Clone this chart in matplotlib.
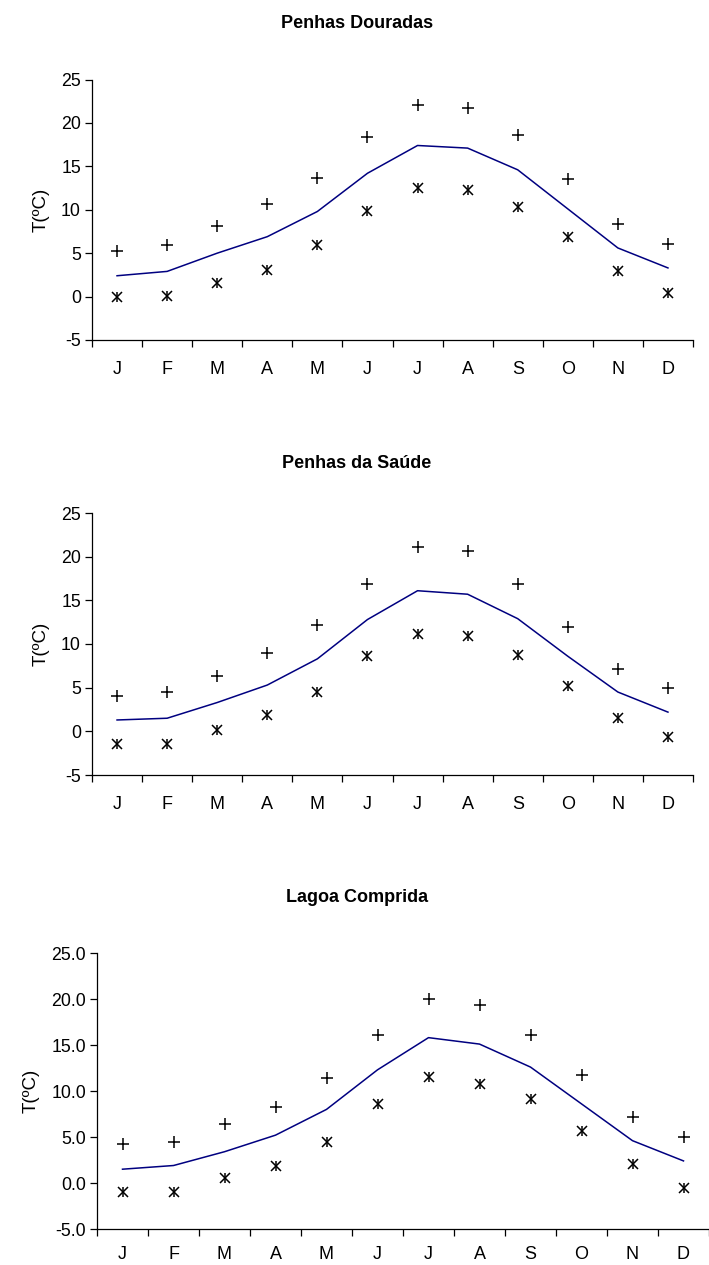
import matplotlib
matplotlib.use("Agg")
import matplotlib.pyplot as plt
import numpy as np

plt.rcParams['font.family'] = ['Liberation Sans', 'DejaVu Sans']

months = ['J', 'F', 'M', 'A', 'M', 'J', 'J', 'A', 'S', 'O', 'N', 'D']

# monthly temperatures (ºC): max, mean, min for each station
pd_max = [5.3, 5.9, 8.1, 10.7, 13.7, 18.4, 22.1, 21.7, 18.6, 13.5, 8.4, 6.1]
pd_mean = [2.4, 2.9, 5.0, 6.9, 9.8, 14.2, 17.4, 17.1, 14.6, 10.1, 5.6, 3.3]
pd_min = [-0.1, 0.1, 1.6, 3.1, 5.9, 9.9, 12.5, 12.3, 10.3, 6.9, 2.9, 0.4]

ps_max = [4.0, 4.5, 6.3, 9.0, 12.2, 16.9, 21.1, 20.6, 16.9, 11.9, 7.1, 5.0]
ps_mean = [1.3, 1.5, 3.3, 5.3, 8.3, 12.8, 16.1, 15.7, 12.9, 8.6, 4.5, 2.2]
ps_min = [-1.5, -1.5, 0.1, 1.9, 4.5, 8.6, 11.2, 10.9, 8.7, 5.2, 1.5, -0.6]

lc_max = [4.2, 4.5, 6.4, 8.3, 11.4, 16.1, 20.0, 19.4, 16.1, 11.7, 7.2, 5.0]
lc_mean = [1.5, 1.9, 3.4, 5.2, 8.0, 12.3, 15.8, 15.1, 12.6, 8.6, 4.6, 2.4]
lc_min = [-1.0, -1.0, 0.5, 1.8, 4.5, 8.6, 11.5, 10.8, 9.1, 5.7, 2.1, -0.5]

stations = ['Penhas Douradas', 'Penhas da Saúde', 'Lagoa Comprida']
maxes = [pd_max, ps_max, lc_max]
means = [pd_mean, ps_mean, lc_mean]
mins = [pd_min, ps_min, lc_min]
ylabel_fmt = ['%d', '%d', '%.1f']

W, H = 709, 1265
fig = plt.figure(figsize=(W / 100, H / 100), dpi=100)

# axes boxes in pixels: left, top, right, bottom
boxes = [(92, 79.5, 693, 340), (92, 513, 693, 775), (97, 953, 709, 1229)]
title_y = [23, 463, 898]
xpad = [15, 15, 12.5]

x = np.arange(len(months))
for k in range(3):
    l, t, r, b = boxes[k]
    ax = fig.add_axes([l / W, 1 - b / H, (r - l) / W, (b - t) / H])
    ax.plot(x, means[k], color='#000080', lw=1.1, zorder=2)
    ax.plot(x, maxes[k], ls='none', marker='+', ms=8.5, mew=1.1, color='black', zorder=3)
    # star marker: an x with a vertical bar through it
    ax.plot(x, mins[k], ls='none', marker='x', ms=6.5, mew=1.1, color='black', zorder=3)
    ax.plot(x, mins[k], ls='none', marker='|', ms=7, mew=1.1, color='black', zorder=3)

    ax.set_xlim(-0.5, len(months) - 0.5)
    ax.set_ylim(-5, 25)
    ax.set_yticks(np.arange(-5, 26, 5))
    ax.set_yticklabels([ylabel_fmt[k] % v for v in np.arange(-5, 26, 5)])
    ax.set_xticks(np.arange(-0.5, len(months), 1))
    ax.set_xticklabels([])
    ax.set_xticks(x, minor=True)
    ax.set_xticklabels(months, minor=True)
    ax.tick_params(axis='x', which='major', length=5, width=0.9, direction='out')
    ax.tick_params(axis='x', which='minor', length=0, pad=xpad[k], labelsize=13)
    ax.tick_params(axis='y', length=5, width=0.9, direction='out', labelsize=12.8, pad=3)
    for s in ['top', 'right']:
        ax.spines[s].set_visible(False)
    for s in ['left', 'bottom']:
        ax.spines[s].set_linewidth(0.9)
    ax.set_ylabel('T(ºC)', fontsize=13.5, labelpad=8)
    fig.text(357 / W, 1 - title_y[k] / H, stations[k], ha='center', va='center',
             fontsize=13, fontweight='bold')

fig.savefig('out.png', dpi=100)
